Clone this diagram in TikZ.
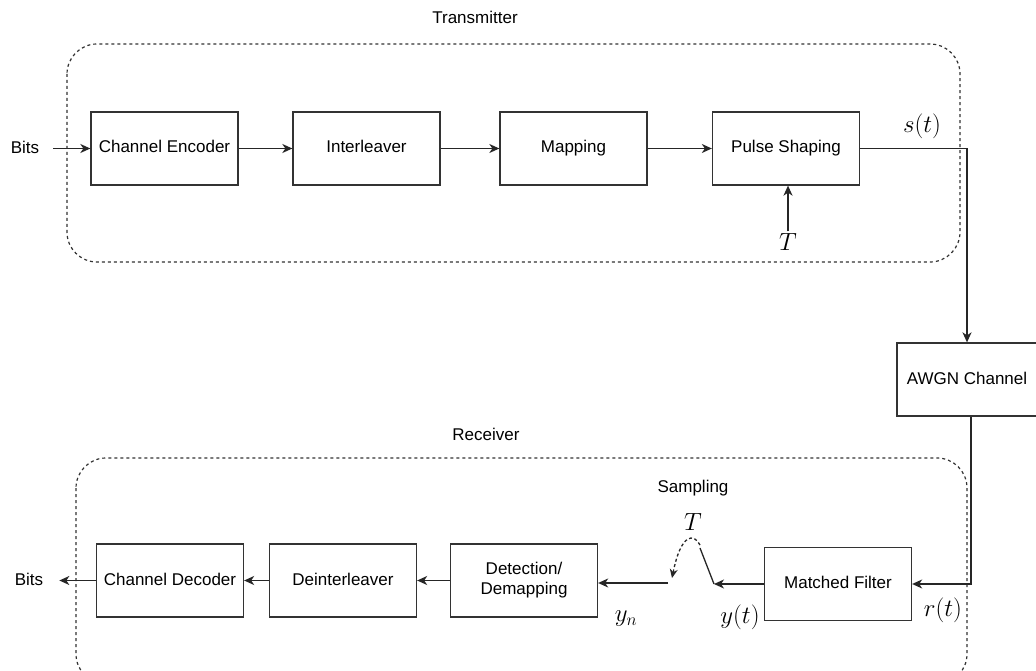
\documentclass[tikz,border=0pt]{standalone}
\usepackage{fontspec}
\setmainfont{Liberation Sans}
\usetikzlibrary{arrows.meta}
\begin{document}
\begin{tikzpicture}[x=1pt,y=-1pt,
  boxbase/.style={draw=black!80, line width=1.3pt, minimum width=147pt, minimum height=73pt, inner sep=2pt, font=\fontsize{17}{20}\selectfont, align=center},
  box/.style={boxbase, text height=12.5pt, text depth=3.5pt},
  lbl/.style={font=\fontsize{17}{20}\selectfont, inner sep=3pt},
  mlbl/.style={font=\fontsize{24.5}{28}\selectfont, inner sep=2pt},
  arr/.style={line width=1.3pt, draw=black!85, -{Stealth[length=10pt,width=9pt,inset=3pt]}},
  ln/.style={line width=1.3pt, draw=black!85},
  grp/.style={draw=black!80, line width=1.2pt, dash pattern=on 3pt off 3pt, rounded corners=30pt}]
\path[use as bounding box, clip] (0,0) rectangle (1036,671);
\fill[white] (0,0) rectangle (1036,671);
% groups
\draw[grp] (67,44) rectangle (960,262);
\draw[grp] (76,458) rectangle (967,684);
\node[lbl] (txl) at (475,17) {Transmitter};
\node[lbl] (rxl) at (486,434) {Receiver};
\node[lbl] (sampl) at (693,488) {Sampling};
% transmitter
\node[lbl] (bitsin) at (25,147.5) {Bits};
\node[box] (enc) at (164.5,148.5) {Channel Encoder};
\node[box] (intl) at (366.5,148.5) {Interleaver};
\node[box] (map) at (573.5,148.5) {Mapping};
\node[box] (pulse) at (786,148.5) {Pulse Shaping};
\node[mlbl] (T1) at (788,242) {$T$};
\node[mlbl] (st) at (922,126) {$s(t)$};
\draw[arr, shorten <=11pt] (bitsin.east |- enc.west) -- (enc.west);
\draw[arr] (enc) -- (intl);
\draw[arr] (intl) -- (map);
\draw[arr] (map) -- (pulse);
\draw[arr] (T1.north) -- (T1.north |- pulse.south);
% channel
\node[box, minimum width=140pt] (awgn) at (967,379.5) {AWGN Channel};
\draw[arr] (pulse.east) -| (awgn.north);
% receiver
\node[box] (mf) at (838,584) {Matched Filter};
\node[boxbase] (det) at (524,580.5) {Detection/\\Demapping};
\node[box] (deint) at (343,580.5) {Deinterleaver};
\node[box] (dec) at (170,580.5) {Channel Decoder};
\node[lbl] (bitsout) at (29,579.5) {Bits};
\node[mlbl] (rt) at (943,610) {$r(t)$};
\node[mlbl] (yt) at (740,617) {$y(t)$};
\node[mlbl] (yn) at (626,619) {$y_n$};
\node[mlbl] (T2) at (693,522) {$T$};
\draw[arr] ([xshift=4pt]awgn.south) |- (mf.east);
\coordinate (sw1) at (714,584);
\coordinate (sw2) at (700,548);
\coordinate (sw3) at (668,583);
\coordinate (sw4) at (672,578);
\draw[arr] (mf.west) -- (sw1);
\draw[ln] (sw1) -- (sw2);
\draw[line width=1.3pt, draw=black!85, dash pattern=on 3pt off 2.5pt, -{Stealth[length=9pt,width=8pt,inset=3pt]}] ([shift={(0,-3)}]sw2) .. controls (694,533) and (681,533) .. (sw4);
\draw[arr] (sw3) -- (det.east |- sw3);
\draw[arr] (det.west) -- (deint.east);
\draw[arr] (deint.west) -- (dec.east);
\draw[arr, shorten >=13pt] (dec.west) -- (bitsout.east |- dec.west);
\end{tikzpicture}
\end{document}
